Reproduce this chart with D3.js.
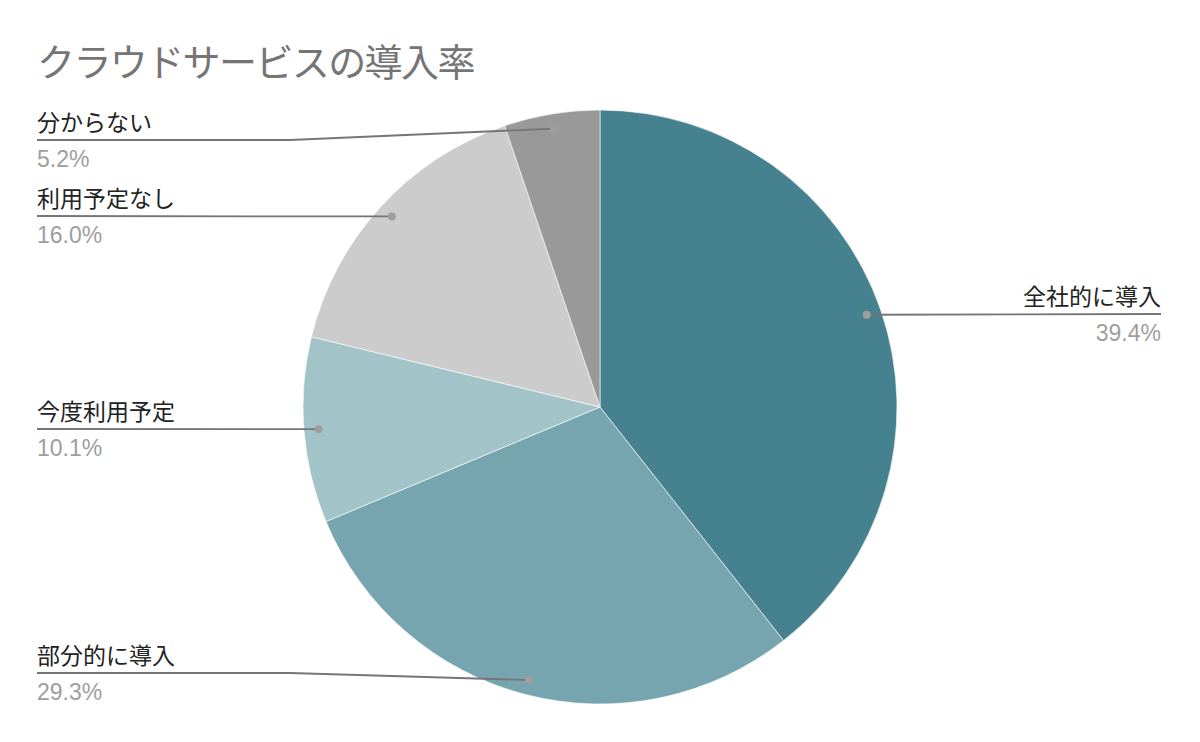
<!DOCTYPE html>
<html>
<head>
<meta charset="utf-8">
<script src="https://cdn.jsdelivr.net/npm/d3@7"></script>
<style>
  body { margin: 0; background: #fff; }
  svg { display: block; font-family: "Liberation Sans", Arial, "Noto Sans CJK JP", sans-serif; }
  .cjk { font-family: "Noto Sans CJK JP", sans-serif; }
</style>
</head>
<body>
<svg id="chart" width="1200" height="742"></svg>
<script>
// chart data
const categories = ["全社的に導入", "部分的に導入", "今度利用予定", "利用予定なし", "分からない"];
const values = [39.4, 29.3, 10.1, 16.0, 5.2];
const colors = ["#45818e", "#76a5af", "#a2c4c9", "#cccccc", "#999999"];
const title = "クラウドサービスの導入率";

const width = 1200, height = 742;
const cx = 600, cy = 407, radius = 297;

const svg = d3.select("#chart");

svg.append("text")
  .attr("class", "cjk")
  .attr("x", 37)
  .attr("y", 76)
  .attr("fill", "#757575")
  .style("font-size", "38px")
  .style("letter-spacing", "-1.6px")
  .text(title);

const data = categories.map((c, i) => ({ name: c, value: values[i], color: colors[i] }));

const pie = d3.pie()
  .sort(null)
  .value(d => d.value);

const arcs = pie(data);

const arc = d3.arc()
  .innerRadius(0)
  .outerRadius(radius);

const g = svg.append("g")
  .attr("transform", `translate(${cx},${cy})`);

g.selectAll("path.slice")
  .data(arcs)
  .join("path")
  .attr("class", "slice")
  .attr("d", arc)
  .attr("fill", d => d.data.color)
  .attr("stroke", "#fff")
  .attr("stroke-width", 0.6);

// dot sits at 0.95r on the slice's mid-angle
const dotArc = d3.arc().innerRadius(radius * 0.95).outerRadius(radius * 0.95);
const leftX = 37, rightX = 1161, bendX = 290;
// y of each label rule on the page
const labelY = [314, 673, 429, 216, 140];

const labels = svg.append("g");

arcs.forEach((a, i) => {
  const [dx, dy] = dotArc.centroid(a);
  const px = cx + dx, py = cy + dy;
  const ly = labelY[i];
  const mid = (a.startAngle + a.endAngle) / 2;
  const right = mid < Math.PI;

  let pts;
  if (right) {
    pts = Math.abs(py - ly) > 1
      ? [[px, py], [px + 40, ly], [rightX, ly]]
      : [[px, py], [rightX, ly]];
  } else {
    pts = Math.abs(py - ly) > 1
      ? [[px, py], [bendX, ly], [leftX, ly]]
      : [[px, py], [leftX, ly]];
  }

  labels.append("path")
    .attr("d", d3.line()(pts))
    .attr("fill", "none")
    .attr("stroke", "#757575")
    .attr("stroke-width", 1.8);

  labels.append("circle")
    .attr("cx", px)
    .attr("cy", py)
    .attr("r", 4)
    .attr("fill", "#9e9e9e");

  const tx = right ? rightX : leftX;
  const anchor = right ? "end" : "start";

  labels.append("text")
    .attr("class", "cjk")
    .attr("x", tx)
    .attr("y", ly - 9)
    .attr("text-anchor", anchor)
    .attr("fill", "#222222")
    .style("font-size", "23px")
    .text(a.data.name);

  labels.append("text")
    .attr("x", tx)
    .attr("y", ly + 27)
    .attr("text-anchor", anchor)
    .attr("fill", "#9e9e9e")
    .style("font-size", "23px")
    .text(d3.format(".1f")(a.data.value) + "%");
});
</script>
</body>
</html>
